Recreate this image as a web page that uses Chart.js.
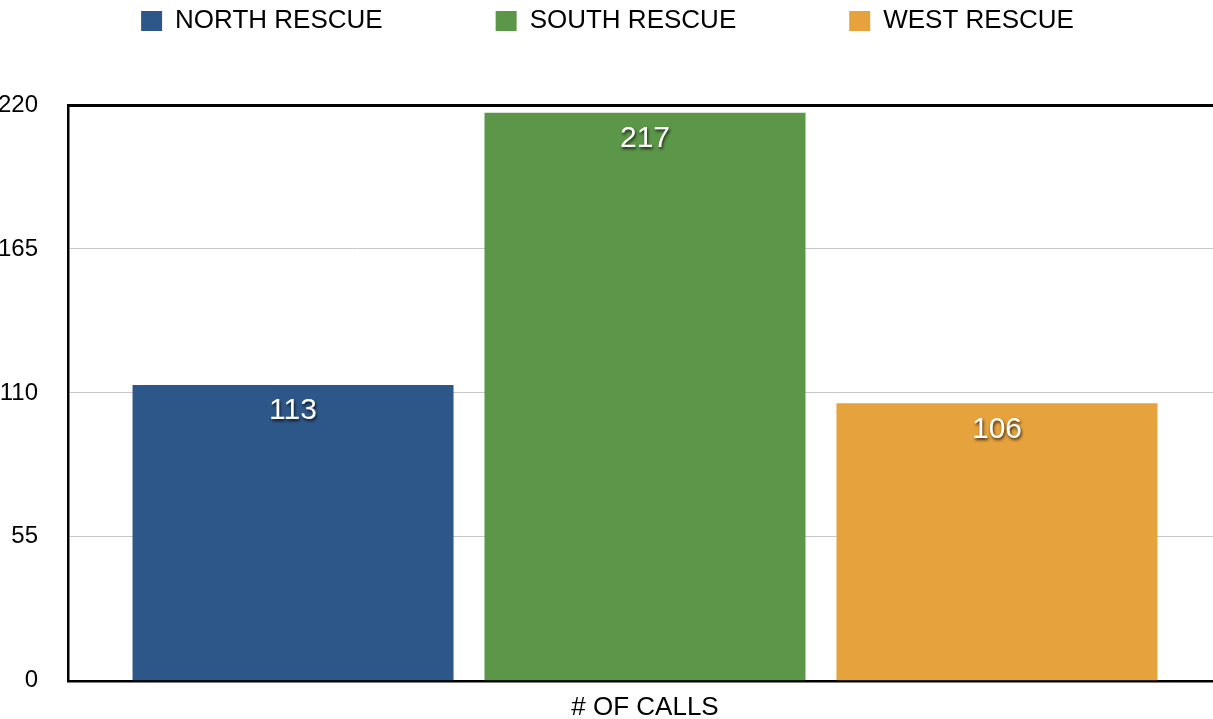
<!DOCTYPE html>
<html>
<head>
<meta charset="utf-8">
<script src="https://cdn.jsdelivr.net/npm/chart.js@4.4.1/dist/chart.umd.min.js"></script>
<style>
    html, body { margin: 0; padding: 0; background: #fff; overflow: hidden; width: 1213px; height: 719px; }
    #page { position: relative; width: 1213px; height: 719px; overflow: hidden; }
    /* canvas is a bit larger than the page so the plot bleeds off the edges like the original */
    #wrap { position: absolute; left: -7px; top: -105px; width: 1229px; height: 839px; }
</style>
</head>
<body>
<div id="page"><div id="wrap"><canvas id="callsChart"></canvas></div></div>
<script>
// Chart data
const categories = ['# OF CALLS'];
const seriesNames = ['NORTH RESCUE', 'SOUTH RESCUE', 'WEST RESCUE'];
const northValues = [113];
const southValues = [217];
const westValues = [106];
const yTicks = [0, 55, 110, 165, 220];

const seriesColors = ['#2E5789', '#5C9649', '#E6A23C'];
const fontFamily = '"Liberation Sans", Helvetica, Arial, sans-serif';

Chart.defaults.font.family = fontFamily;
Chart.defaults.color = '#000';

// White value labels inside the top of each bar
const valueLabels = {
    id: 'valueLabels',
    afterDatasetsDraw(chart) {
        const ctx = chart.ctx;
        ctx.save();
        ctx.font = '30px ' + fontFamily;
        ctx.fillStyle = '#fff';
        ctx.textAlign = 'center';
        ctx.textBaseline = 'middle';
        ctx.shadowColor = 'rgba(0, 0, 0, 0.75)';
        ctx.shadowBlur = 3;
        ctx.shadowOffsetX = 1;
        ctx.shadowOffsetY = 2;
        chart.data.datasets.forEach((ds, i) => {
            chart.getDatasetMeta(i).data.forEach((bar, j) => {
                ctx.fillText(String(ds.data[j]), bar.x, bar.y + 26);
            });
        });
        ctx.restore();
    }
};

const allSeries = [northValues, southValues, westValues];

new Chart(document.getElementById('callsChart'), {
    type: 'bar',
    data: {
        labels: categories,
        datasets: allSeries.map((values, i) => ({
            label: seriesNames[i],
            data: values,
            backgroundColor: seriesColors[i],
            borderWidth: 0,
            categoryPercentage: 0.915,
            barPercentage: 0.912
        }))
    },
    options: {
        responsive: true,
        maintainAspectRatio: false,
        animation: false,
        devicePixelRatio: 1,
        layout: { padding: 0 },
        plugins: {
            legend: {
                position: 'top',
                labels: {
                    boxWidth: 21,
                    boxHeight: 20,
                    padding: 113,
                    color: '#000',
                    font: { size: 26 }
                }
            },
            tooltip: { enabled: false }
        },
        scales: {
            x: {
                grid: { display: false, drawTicks: false },
                border: { display: true, color: '#000', width: 2.5 },
                ticks: { padding: 11, color: '#000', font: { size: 26 } }
            },
            xTop: {
                type: 'linear',
                position: 'top',
                grid: { display: false, drawTicks: false },
                ticks: { display: false },
                border: { display: true, color: '#000', width: 3 },
                afterFit: (scale) => { scale.height = 61; }
            },
            y: {
                min: 0,
                max: 220,
                afterBuildTicks: (scale) => {
                    scale.ticks = yTicks.map(v => ({ value: v }));
                },
                afterFit: (scale) => { scale.width = 75; },
                grid: {
                    drawTicks: false,
                    color: (c) => (c.tick && (c.tick.value === 0 || c.tick.value === 220)) ? 'rgba(0,0,0,0)' : '#c8c8c8',
                    lineWidth: 1
                },
                border: { display: true, color: '#000', width: 2.5 },
                ticks: { padding: 30, color: '#000', font: { size: 24 } }
            }
        }
    },
    plugins: [valueLabels]
});
</script>
</body>
</html>
